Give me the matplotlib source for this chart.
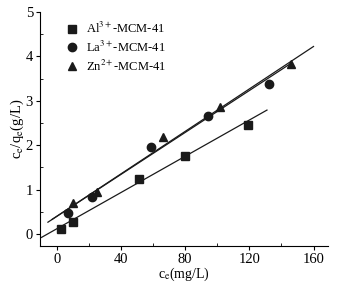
import matplotlib
matplotlib.use("Agg")
import matplotlib.pyplot as plt
import numpy as np
from matplotlib.ticker import MultipleLocator

plt.rcParams['font.family'] = ['Liberation Serif', 'DejaVu Serif']
plt.rcParams['mathtext.fontset'] = 'stix'

# data
al_x = [2.5, 10, 51, 80, 119]
al_y = [0.11, 0.27, 1.24, 1.76, 2.45]
la_x = [7, 22, 59, 94, 132]
la_y = [0.47, 0.83, 1.96, 2.66, 3.38]
zn_x = [10, 25, 66, 102, 146]
zn_y = [0.70, 0.95, 2.18, 2.86, 3.83]

# fitted lines: (slope, intercept, x start, x end)
al_fit = (0.0204, 0.12, -9.5, 131)
la_fit = (0.0236, 0.40, -3, 146)
zn_fit = (0.0239, 0.40, -5.5, 160)

labels = ['Al$^{3+}$-MCM-41', 'La$^{3+}$-MCM-41', 'Zn$^{2+}$-MCM-41']

fig = plt.figure(figsize=(3.5, 2.93), dpi=100)
ax = fig.add_axes([0.114, 0.160, 0.823, 0.799])

ax.plot(al_x, al_y, 's', color='#1a1a1a', ms=5.5, label=labels[0])
ax.plot(la_x, la_y, 'o', color='#1a1a1a', ms=6, label=labels[1])
ax.plot(zn_x, zn_y, '^', color='#1a1a1a', ms=5.5, label=labels[2])

for k, b, x0, x1 in [al_fit, la_fit, zn_fit]:
    xs = np.array([x0, x1])
    ax.plot(xs, k * xs + b, color='#1a1a1a', lw=0.9)

ax.set_xlim(-10.5, 169)
ax.set_ylim(-0.27, 5)
ax.xaxis.set_major_locator(MultipleLocator(40))
ax.xaxis.set_minor_locator(MultipleLocator(20))
ax.yaxis.set_major_locator(MultipleLocator(1))
ax.yaxis.set_minor_locator(MultipleLocator(0.5))
ax.tick_params(which='major', direction='out', length=3, width=0.8, labelsize=10.5, pad=2)
ax.tick_params(which='minor', direction='in', length=2, width=0.6)
ax.spines['top'].set_visible(False)
ax.spines['right'].set_visible(False)

ax.set_xlabel('c$_{\\rm e}$(mg/L)', fontsize=10, labelpad=0)
ax.set_ylabel('c$_{\\rm e}$/q$_{\\rm e}$(g/L)', fontsize=10.5, labelpad=0)

ax.legend(loc='upper left', bbox_to_anchor=(0.05, 1.01), frameon=False, fontsize=9,
          handlelength=1, handletextpad=0.6, labelspacing=0.3)

fig.savefig('out.png', dpi=100)
